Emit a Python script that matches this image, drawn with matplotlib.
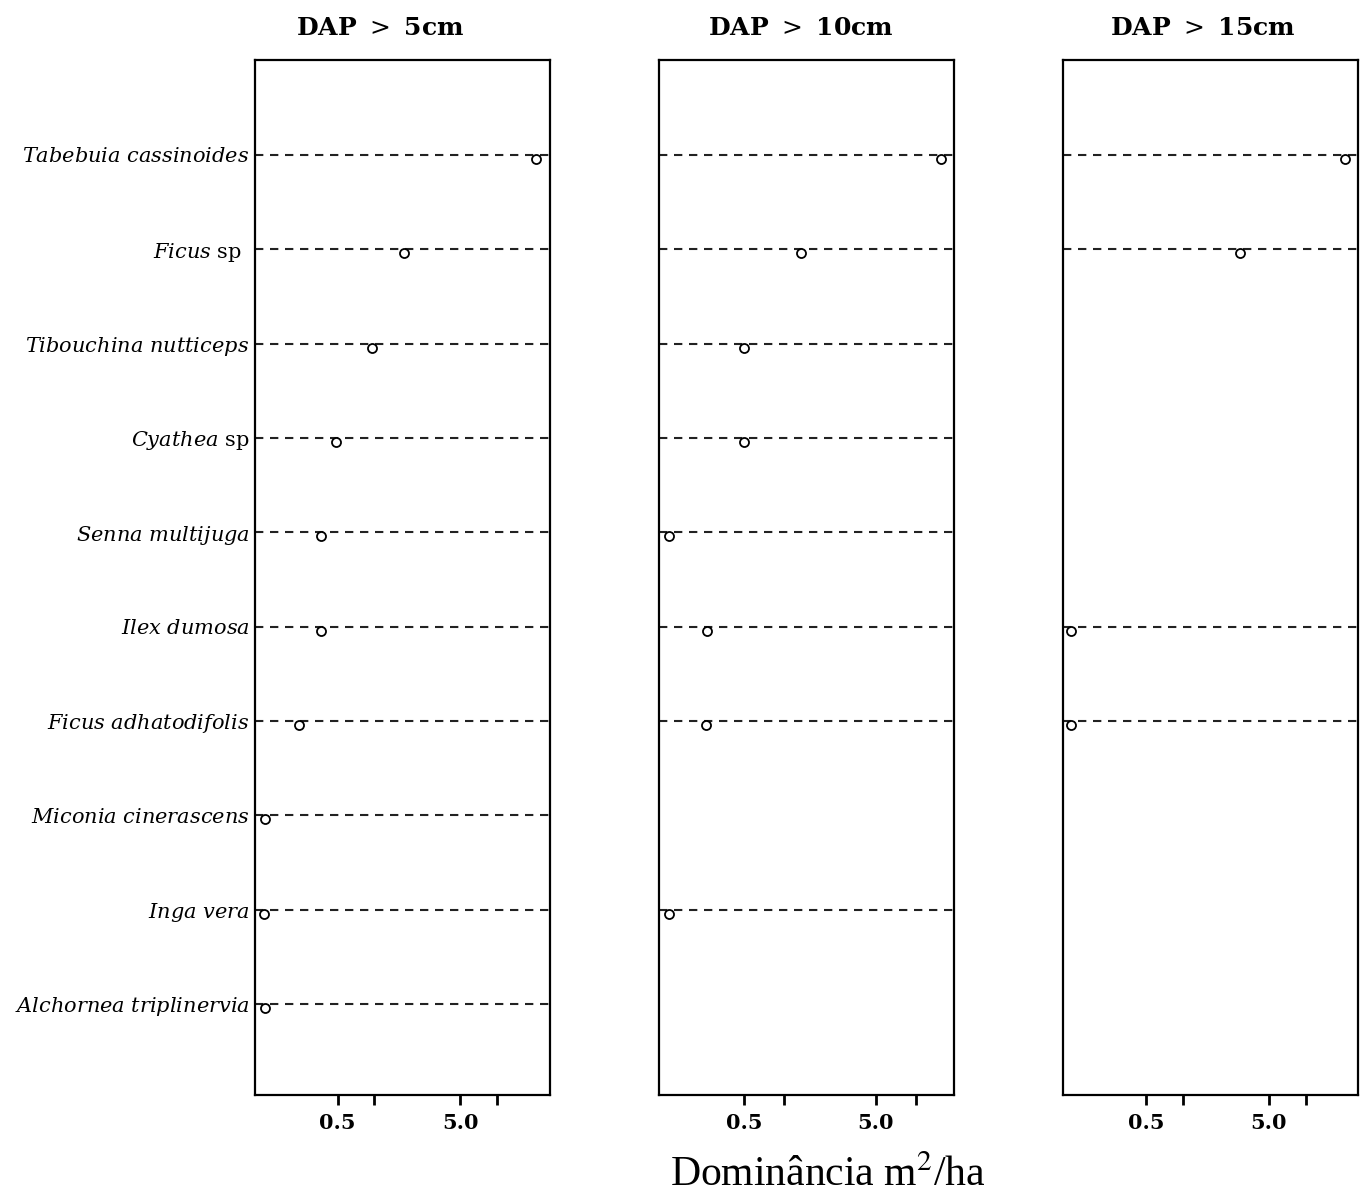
import numpy as np
import matplotlib
matplotlib.use("Agg")
import matplotlib.pyplot as plt
from matplotlib.transforms import offset_copy

plt.rcParams['font.family'] = ['DejaVu Serif']
plt.rcParams['mathtext.fontset'] = 'custom'
plt.rcParams['mathtext.rm'] = 'DejaVu Serif'
plt.rcParams['mathtext.it'] = 'DejaVu Serif:italic'

species = [r"$\mathit{Tabebuia\ cassinoides}$", "$\\mathit{Ficus}$ sp\u00a0\u00a0",
           r"$\mathit{Tibouchina\ nutticeps}$", r"$\mathit{Cyathea}$ sp",
           r"$\mathit{Senna\ multijuga}$", r"$\mathit{Ilex\ dumosa}$",
           r"$\mathit{Ficus\ adhatodifolis}$", r"$\mathit{Miconia\ cinerascens}$",
           r"$\mathit{Inga\ vera}$", r"$\mathit{Alchornea\ triplinervia}$"]

titles = ["DAP $>$ 5cm", "DAP $>$ 10cm", "DAP $>$ 15cm"]

dap5 = [20.9, 1.73, 0.95, 0.49, 0.366, 0.366, 0.242, 0.128, 0.126, 0.128]
dap10 = [15.6, 1.35, 0.50, 0.50, 0.133, 0.259, 0.256, np.nan, 0.133, np.nan]
dap15 = [20.7, 2.9, np.nan, np.nan, np.nan, 0.124, 0.123, np.nan, np.nan, np.nan]
series = [dap5, dap10, dap15]

xlims = [(0.106, 27.1), (0.112, 19.6), (0.106, 26.5)]
major_ticks = [0.5, 5.0]
major_labels = ["0.5", "5.0"]
minor_ticks = [1.0, 10.0]

fig = plt.figure(figsize=(13.61, 12.01), dpi=100)
lefts = [255, 659, 1063]
W, H = 1361, 1201
axes = []
ypos = np.arange(len(species), 0, -1)
title_x = [380, 801, 1203]

for i, (vals, left) in enumerate(zip(series, lefts)):
    ax = fig.add_axes([left / W, 1 - 1095 / H, 295 / W, 1035 / H])
    axes.append(ax)
    ax.set_xscale('log')
    ax.set_xlim(*xlims[i])
    ax.set_ylim(0.035, 11.007)
    vals = np.array(vals, dtype=float)
    trans = offset_copy(ax.transData, fig=fig, x=0, y=-3, units='points')
    for y, v in zip(ypos, vals):
        if np.isfinite(v):
            ax.axhline(y, color='#222222', lw=1.5, ls=(0, (4.0, 3.2)), zorder=1)
    ok = np.isfinite(vals)
    ax.plot(vals[ok], ypos[ok], 'o', ms=6.5, mfc='white', mec='black', mew=1.3,
            transform=trans, zorder=3, clip_on=False)
    ax.set_xticks(major_ticks)
    ax.set_xticklabels(major_labels, fontweight='bold', fontsize=15)
    ax.set_xticks(minor_ticks, minor=True)
    ax.xaxis.set_minor_formatter(matplotlib.ticker.NullFormatter())
    ax.tick_params(axis='x', which='both', length=7, width=2, direction='out', pad=6)
    ax.set_yticks(ypos)
    if i == 0:
        ax.set_yticklabels(species, fontsize=15)
        ax.tick_params(axis='y', length=0, pad=4)
    else:
        ax.set_yticklabels([])
        ax.tick_params(axis='y', length=0)
    for sp in ax.spines.values():
        sp.set_linewidth(1.6)
    fig.text(title_x[i] / W, 1 - 28 / H, titles[i], ha='center', va='center',
             fontsize=18, fontweight='bold')

fig.text(828 / W, 1 - 1176 / H, "Dominância m$^2$/ha", ha='center', va='center',
         fontsize=30, family=['Liberation Serif'], math_fontfamily='stix')

fig.savefig("out.png", dpi=100)
